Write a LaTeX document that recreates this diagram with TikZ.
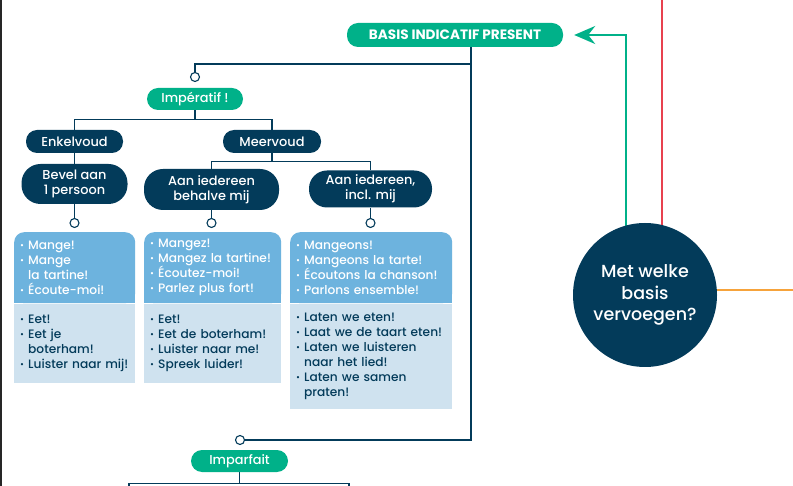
\documentclass[tikz,border=0pt]{standalone}
\usepackage{fontspec}
\setmainfont{Poppins}[UprightFont=* Medium, BoldFont=* Bold]
\usetikzlibrary{arrows.meta,backgrounds}
\definecolor{navy}{HTML}{033B5A}
\definecolor{teal}{HTML}{00B189}
\definecolor{cardblue}{HTML}{6DB3DE}
\definecolor{cardlight}{HTML}{CFE2EF}
\definecolor{redline}{HTML}{E8414F}
\definecolor{orangeline}{HTML}{F6A33B}
\newcommand\bul{\makebox[8pt][l]{\raisebox{0.1em}{\scalebox{0.7}{•}}}}
\newcommand\cnt{\hspace*{8pt}}
\tikzset{
  pill/.style={rectangle, rounded corners=11pt, fill=teal, text=white, inner sep=0pt, minimum height=23pt, font=\fontsize{12.9}{14}\selectfont},
  darkpill/.style={pill, fill=navy},
  bigpill/.style={darkpill, rounded corners=19pt, align=center, font=\fontsize{12.9}{15}\selectfont},
  conn/.style={draw=navy, line width=1.2pt},
  dotnode/.style={circle, draw=navy, fill=white, line width=1.1pt, minimum size=9pt, inner sep=0pt},
  cardtop/.style={rectangle, rounded corners=10pt, fill=cardblue, text=white, anchor=north west, inner xsep=6pt, inner ysep=0pt, align=left, font=\fontsize{12.2}{15}\selectfont},
  cardbot/.style={rectangle, fill=cardlight, text=navy, anchor=north west, inner xsep=6pt, inner ysep=0pt, align=left, font=\fontsize{12.2}{15}\selectfont},
}
\begin{document}
\begin{tikzpicture}[x=1pt,y=-1pt]
\useasboundingbox (0,0) rectangle (793,486);
\draw[line width=1.5pt, black!85] (0.75,0) -- (0.75,486);

% top pill
\node[pill, fill=teal, minimum width=216pt, minimum height=24pt, font=\fontsize{13.6}{14}\selectfont\bfseries] (basis) at (455,35) {BASIS INDICATIF PRESENT};

% imperatif branch
\node[dotnode] (dimp) at (195,77) {};
\node[pill, minimum width=96pt, minimum height=22pt] (imp) at (195,99) {Impératif !};
\node[darkpill, minimum width=97pt] (enk) at (74.5,141.5) {Enkelvoud};
\node[darkpill, minimum width=98pt] (meer) at (272,141.5) {Meervoud};
\node[bigpill, minimum width=106pt, minimum height=40pt] (bevel) at (74.5,184) {Bevel aan\\1 persoon};
\node[bigpill, minimum width=135pt, minimum height=41pt] (behalve) at (211.5,189.5) {Aan iedereen\\behalve mij};
\node[bigpill, minimum width=123pt, minimum height=37pt, rounded corners=18pt] (incl) at (370.5,189) {Aan iedereen,\\incl. mij};
\node[dotnode] (d1) at (74.5,223) {};
\node[dotnode] (d2) at (211.5,223) {};
\node[dotnode] (d3) at (370.5,223) {};

% cards
\node[cardtop, minimum width=121pt, text width=109pt, minimum height=71pt] (c1t) at (14,232)
 {\bul Mange!\\\bul Mange\\\cnt la tartine!\\\bul Écoute-moi!};
\node[cardbot, minimum width=121pt, text width=109pt, minimum height=79pt] (c1b) at (c1t.south west)
 {\bul Eet!\\\bul Eet je\\\cnt boterham!\\\bul Luister naar mij!};
\node[cardtop, minimum width=137pt, text width=125pt, minimum height=71pt] (c2t) at (144,232)
 {\bul Mangez!\\\bul Mangez la tartine!\\\bul Écoutez-moi!\\\bul Parlez plus fort!};
\node[cardbot, minimum width=137pt, text width=125pt, minimum height=79pt] (c2b) at (c2t.south west)
 {\bul Eet!\\\bul Eet de boterham!\\\bul Luister naar me!\\\bul Spreek luider!};
\node[cardtop, minimum width=162pt, text width=150pt, minimum height=71pt] (c3t) at (290,232)
 {\bul Mangeons!\\\bul Mangeons la tarte!\\\bul Écoutons la chanson!\\\bul Parlons ensemble!};
\node[cardbot, minimum width=162pt, text width=150pt, minimum height=105pt] (c3b) at (c3t.south west)
 {\bul Laten we eten!\\\bul Laat we de taart eten!\\\bul Laten we luisteren\\\cnt naar het lied!\\\bul Laten we samen\\\cnt praten!};

% imparfait
\node[dotnode] (dimpf) at (240,440) {};
\node[pill, minimum width=97pt, minimum height=22pt] (impf) at (239.5,461) {Imparfait};

% circle
\node[circle, fill=navy, minimum size=144pt, inner sep=0pt, text=white, align=center, font=\fontsize{17.5}{21.5}\selectfont] (circ) at (645,295) {Met welke\\basis\\vervoegen?};

\coordinate (trunk) at (471,47);
\coordinate (branch) at (471,64);
\coordinate (gx) at (626,0);
\coordinate (rtop) at (662,0);
\coordinate (oend) at (793,290);
\coordinate (bl) at (129,486);
\coordinate (br) at (349,486);

\begin{scope}[on background layer]
  \fill[white] (0,0) rectangle (793,486);
  \fill[cardblue] ([yshift=12pt]c1t.south west) rectangle (c1t.south east);
  \fill[cardblue] ([yshift=12pt]c2t.south west) rectangle (c2t.south east);
  \fill[cardblue] ([yshift=12pt]c3t.south west) rectangle (c3t.south east);
  \draw[conn] (basis.south -| trunk) |- (dimpf);
  \draw[conn] (branch) -| (dimp);
  \draw[conn] (imp.south) -- ++(0,9) coordinate (j1);
  \draw[conn] (enk.north) |- (j1) -| (meer.north);
  \draw[conn] (enk.south) -- (bevel.north);
  \draw[conn] (meer.south) -- ++(0,8) coordinate (j2);
  \draw[conn] (behalve.north) |- (j2) -| (incl.north);
  \draw[conn] (bevel.south) -- (d1);
  \draw[conn] (behalve.south) -- (d2);
  \draw[conn] (incl.south) -- (d3);
  \draw[conn] (impf.south) -- ++(0,11) coordinate (j3);
  \draw[conn] (bl) |- (j3) -| (br);
  \draw[redline, line width=2pt] (rtop) -- (rtop |- circ.center);
  \draw[orangeline, line width=2pt] (circ.center |- oend) -- (oend);
  \draw[teal, line width=2pt, -{Stealth[length=21pt, width=18pt, inset=7pt]}] (circ.center -| gx) |- ([xshift=11pt]basis.east);
\end{scope}
\end{tikzpicture}
\end{document}
